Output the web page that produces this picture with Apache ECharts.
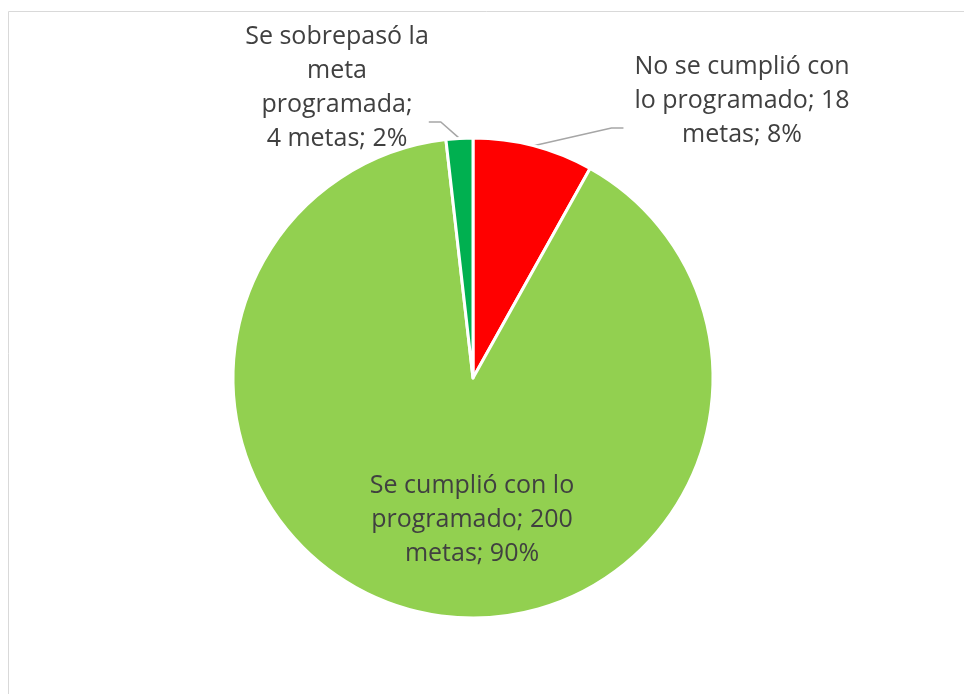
<!DOCTYPE html>
<html>
<head>
<meta charset="utf-8">
<script src="https://cdn.jsdelivr.net/npm/echarts@6/dist/echarts.min.js"></script>
<style>
  html, body { margin: 0; padding: 0; background: #fff; }
  #main { width: 964px; height: 694px; }
</style>
</head>
<body>
<div id="main"></div>
<script>
// data
const categories = ['No se cumplió con lo programado', 'Se cumplió con lo programado', 'Se sobrepasó la meta programada']
const metas = [18, 200, 4]
const colors = ['#ff0000', '#92d050', '#00b050']
// wrapped label text, as laid out in the original; {s| } is an empty spacer line
const labelTexts = [
  'No se cumplió con\nlo programado; {c}\nmetas; {d}%\n{s| }',
  'Se cumplió con lo\nprogramado; {c}\nmetas; {d}%',
  'Se sobrepasó la\nmeta\nprogramada;\n{c} metas; {d}%\n{g| }'
]
// label box centres (spacer/padding move the point where the leader line meets the box)
const labelPos = [[736.5, 128], [472, 520], [337, 122]]
const labelPad = [[0, 0, 0, 11], 0, 0]

const myChart = echarts.init(document.getElementById('main'))

const option = {
  animation: false,
  graphic: [
    {
      type: 'rect',
      shape: { x: 8.5, y: 11.5, width: 1000, height: 1000 },
      style: { fill: 'none', stroke: '#d9d9d9', lineWidth: 1 }
    }
  ],
  series: [
    {
      type: 'pie',
      center: [473, 378],
      radius: [0, 240],
      startAngle: 90,
      clockwise: true,
      percentPrecision: 0,
      itemStyle: { borderColor: '#fff', borderWidth: 3 },
      label: {
        show: true,
        position: 'outside',
        color: '#404040',
        fontFamily: 'Open Sans',
        fontSize: 25,
        lineHeight: 34,
        align: 'center',
        rich: {
          s: { fontSize: 1, lineHeight: 54 },
          g: { fontSize: 1, lineHeight: 68 }
        }
      },
      labelLine: {
        show: true,
        length: 20,
        length2: 12,
        lineStyle: { color: '#a6a6a6', width: 1.5 }
      },
      labelLayout: function (params) {
        const p = labelPos[params.dataIndex]
        return { x: p[0], y: p[1], align: 'center', verticalAlign: 'middle' }
      },
      data: categories.map(function (name, i) {
        const item = {
          name: name,
          value: metas[i],
          itemStyle: { color: colors[i] },
          label: { formatter: labelTexts[i], padding: labelPad[i] }
        }
        if (i === 1) {
          item.label.position = 'inside'
          item.labelLine = { show: false }
        }
        return item
      })
    }
  ]
}

myChart.setOption(option)
</script>
</body>
</html>
